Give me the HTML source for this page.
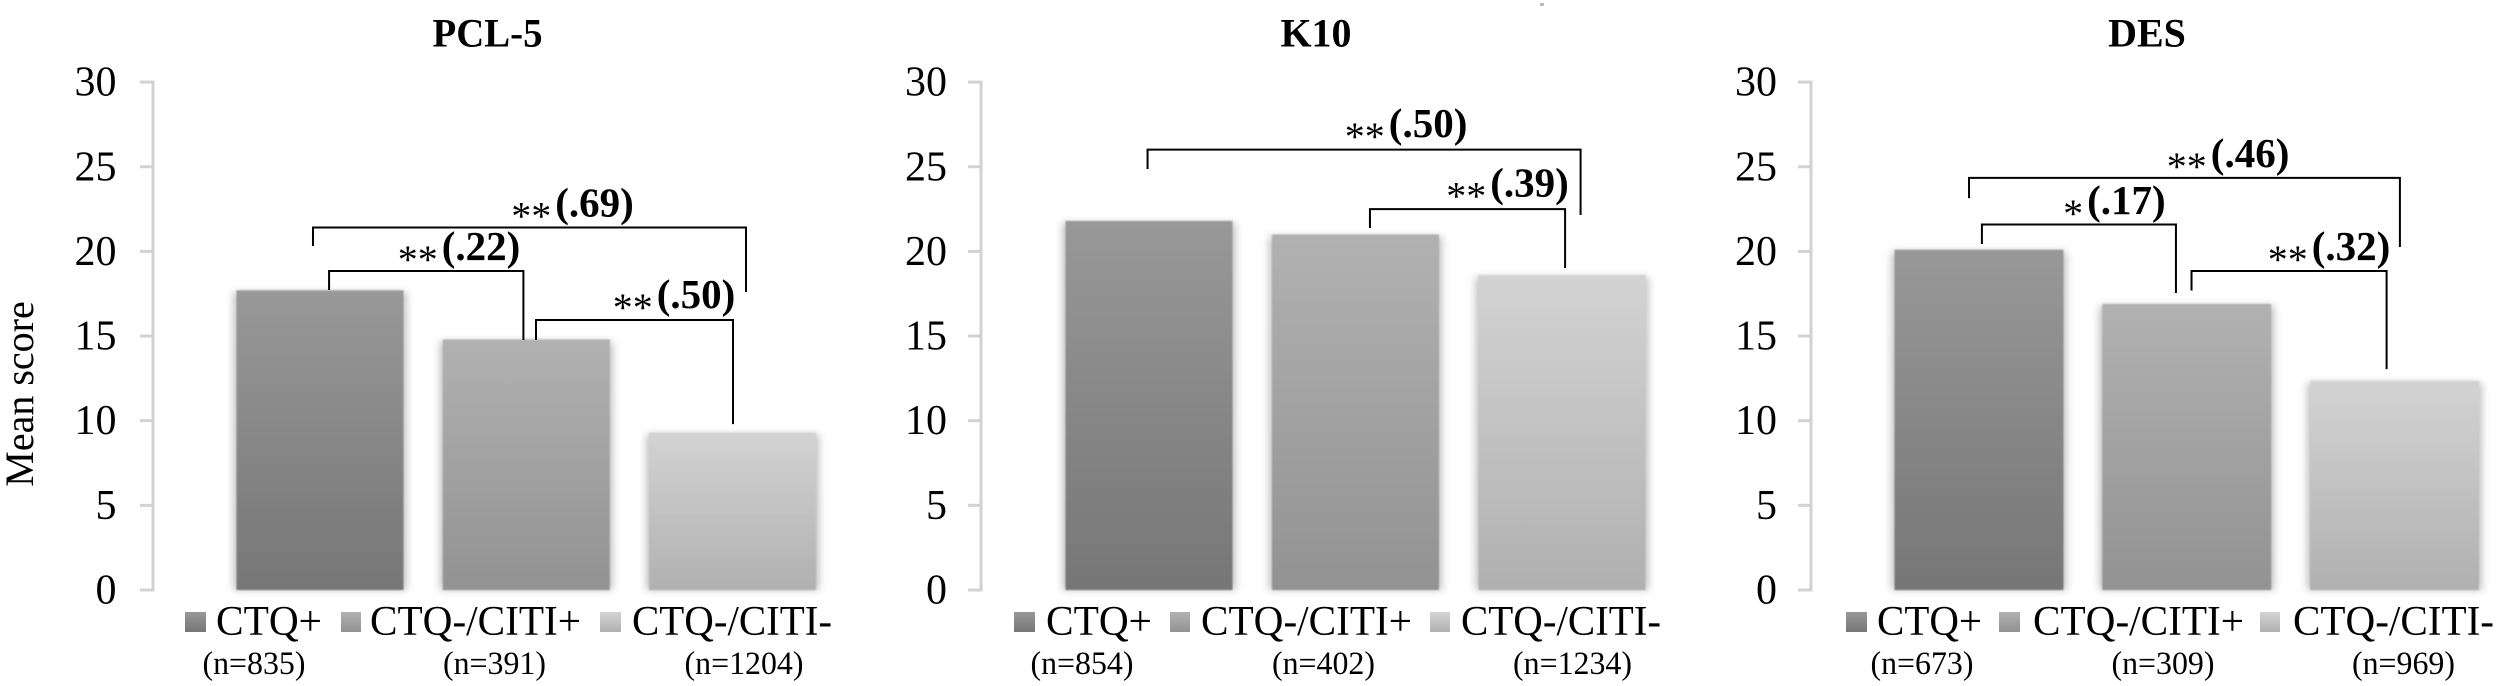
<!DOCTYPE html>
<html lang="en">
<head>
<meta charset="utf-8">
<title>Mean scores by group: PCL-5, K10, DES</title>
<style>
html,body{margin:0;padding:0;background:#fff;}
body{width:2500px;height:686px;overflow:hidden;}
svg{display:block;font-family:"Liberation Serif",serif;fill:#000;}
.title{font-size:40px;font-weight:bold;text-anchor:middle;}
.tick{font-size:42px;text-anchor:end;}
.leg{font-size:42px;}
.n{font-size:33px;text-anchor:middle;}
.ax{font-size:40px;}
.sig{font-size:41px;font-weight:bold;text-anchor:middle;}
.star{font-size:40px;font-weight:normal;}
</style>
</head>
<body>
<svg id="chart" xmlns="http://www.w3.org/2000/svg" width="2500" height="686" viewBox="0 0 2500 686">
  <defs>
    <linearGradient id="g0" x1="0" y1="0" x2="0" y2="1"><stop offset="0" stop-color="#989898"/><stop offset="1" stop-color="#767676"/></linearGradient>
    <linearGradient id="g1" x1="0" y1="0" x2="0" y2="1"><stop offset="0" stop-color="#b1b1b1"/><stop offset="1" stop-color="#929292"/></linearGradient>
    <linearGradient id="g2" x1="0" y1="0" x2="0" y2="1"><stop offset="0" stop-color="#d3d3d3"/><stop offset="1" stop-color="#b0b0b0"/></linearGradient>
    <filter id="soft" x="-20%" y="-10%" width="140%" height="120%"><feGaussianBlur stdDeviation="4"/></filter>
    <filter id="edge" x="-5%" y="-5%" width="110%" height="110%"><feGaussianBlur stdDeviation="0.7"/></filter>
  </defs>

  <rect x="1540" y="3" width="4" height="3" fill="#bbb"/>

  <text class="ax" transform="translate(33 394) rotate(-90)" text-anchor="middle">Mean score</text>

  <g>
    <text class="title" x="487.5" y="46.5" textLength="110" lengthAdjust="spacingAndGlyphs">PCL-5</text>
    <rect x="185" y="612" width="21" height="20" fill="url(#g0)"/>
    <text class="leg" x="216" y="635" textLength="106" lengthAdjust="spacingAndGlyphs">CTQ+</text>
    <rect x="341" y="612" width="20" height="20" fill="url(#g1)"/>
    <text class="leg" x="370" y="635" textLength="211" lengthAdjust="spacingAndGlyphs">CTQ-/CITI+</text>
    <rect x="600" y="612" width="21" height="20" fill="url(#g2)"/>
    <text class="leg" x="632" y="635" textLength="200" lengthAdjust="spacingAndGlyphs">CTQ-/CITI-</text>
    <text class="n" x="254" y="674" textLength="103" lengthAdjust="spacingAndGlyphs">(n=835)</text>
    <text class="n" x="494.5" y="674" textLength="103" lengthAdjust="spacingAndGlyphs">(n=391)</text>
    <text class="n" x="744" y="674" textLength="119" lengthAdjust="spacingAndGlyphs">(n=1204)</text>
  </g>

  <g>
    <text class="title" x="1316" y="46.5">K10</text>
    <rect x="1014" y="612" width="21" height="20" fill="url(#g0)"/>
    <text class="leg" x="1046" y="635" textLength="106" lengthAdjust="spacingAndGlyphs">CTQ+</text>
    <rect x="1170" y="612" width="20" height="20" fill="url(#g1)"/>
    <text class="leg" x="1201" y="635" textLength="211" lengthAdjust="spacingAndGlyphs">CTQ-/CITI+</text>
    <rect x="1430" y="612" width="20" height="20" fill="url(#g2)"/>
    <text class="leg" x="1461" y="635" textLength="200" lengthAdjust="spacingAndGlyphs">CTQ-/CITI-</text>
    <text class="n" x="1082" y="674" textLength="103" lengthAdjust="spacingAndGlyphs">(n=854)</text>
    <text class="n" x="1323.5" y="674" textLength="103" lengthAdjust="spacingAndGlyphs">(n=402)</text>
    <text class="n" x="1572.5" y="674" textLength="119" lengthAdjust="spacingAndGlyphs">(n=1234)</text>
  </g>

  <g>
    <text class="title" x="2147" y="46.5">DES</text>
    <rect x="1846" y="612" width="21" height="20" fill="url(#g0)"/>
    <text class="leg" x="1877" y="635" textLength="105" lengthAdjust="spacingAndGlyphs">CTQ+</text>
    <rect x="1999" y="612" width="21" height="20" fill="url(#g1)"/>
    <text class="leg" x="2033" y="635" textLength="211" lengthAdjust="spacingAndGlyphs">CTQ-/CITI+</text>
    <rect x="2260" y="612" width="20" height="20" fill="url(#g2)"/>
    <text class="leg" x="2293" y="635" textLength="201" lengthAdjust="spacingAndGlyphs">CTQ-/CITI-</text>
    <text class="n" x="1922" y="674" textLength="103" lengthAdjust="spacingAndGlyphs">(n=673)</text>
    <text class="n" x="2163" y="674" textLength="103" lengthAdjust="spacingAndGlyphs">(n=309)</text>
    <text class="n" x="2403.5" y="674" textLength="103" lengthAdjust="spacingAndGlyphs">(n=969)</text>
  </g>
</svg>
<script>
const categories = ["ctq-pos", "citi-pos", "citi-neg"];
const yTickValues = [0, 5, 10, 15, 20, 25, 30];

const pcl5Values = [17.7, 14.8, 9.3];
const k10Values = [21.8, 21.0, 18.6];
const desValues = [20.1, 16.9, 12.35];

// Significance brackets, in chart units: from/to/at are category positions,
// level/leftEnd/rightEnd/labelBase are values on the mean-score axis.
const pcl5Brackets = [
  {from: -0.034, to: 2.065, level: 21.41, leftEnd: 20.32, rightEnd: 17.6, stars: "**", effect: "(.69)", at: 1.224, labelBase: 22.05},
  {from: 0.044, to: 0.986, level: 18.84, leftEnd: 17.72, rightEnd: 14.77, stars: "**", effect: "(.22)", at: 0.674, labelBase: 19.5},
  {from: 1.047, to: 2.002, level: 15.95, leftEnd: 14.77, rightEnd: 9.8, stars: "**", effect: "(.50)", at: 1.716, labelBase: 16.65}
];
const k10Brackets = [
  {from: -0.007, to: 2.09, level: 26.01, leftEnd: 24.87, rightEnd: 22.15, stars: "**", effect: "(.50)", at: 1.245, labelBase: 26.75},
  {from: 1.07, to: 2.015, level: 22.5, leftEnd: 21.38, rightEnd: 19.02, stars: "**", effect: "(.39)", at: 1.736, labelBase: 23.25}
];
const desBrackets = [
  {from: -0.048, to: 2.026, level: 24.34, leftEnd: 23.15, rightEnd: 20.26, stars: "**", effect: "(.46)", at: 1.199, labelBase: 25.0},
  {from: 0.014, to: 0.948, level: 21.59, leftEnd: 20.44, rightEnd: 17.54, stars: "*", effect: "(.17)", at: 0.652, labelBase: 22.2},
  {from: 1.023, to: 1.962, level: 18.84, leftEnd: 17.69, rightEnd: 13.05, stars: "**", effect: "(.32)", at: 1.685, labelBase: 19.5}
];

const NS = "http://www.w3.org/2000/svg";
const chart = document.getElementById("chart");
const plotBottom = 590;
const pxPerUnit = 16.93;

function yScale(v) {
  return plotBottom - v * pxPerUnit;
}

function make(parent, tag, attrs) {
  const el = document.createElementNS(NS, tag);
  for (const k in attrs) el.setAttribute(k, attrs[k]);
  parent.appendChild(el);
  return el;
}

function drawPanel(name, values, brackets, axisX, firstCenter, step, barWidth, labelGap) {
  const xScale = function (c) { return firstCenter + c * step; };

  const panel = make(chart, "g", {});
  
  

  const axisLine = make(panel, "line", {x1: axisX, x2: axisX, y1: yScale(30) - 1.5, y2: yScale(0) + 1.5, stroke: "#d2d2d2", "stroke-width": 3});
  
  

  yTickValues.forEach(function (t) {
    const mark = make(panel, "line", {x1: axisX - 13, x2: axisX, y1: yScale(t), y2: yScale(t), stroke: "#d2d2d2", "stroke-width": 3});
    
    
    const label = make(panel, "text", {class: "tick", x: axisX - labelGap, y: yScale(t) + 13.5});
    
    
    label.textContent = String(t);
  });

  values.forEach(function (v, i) {
    const left = xScale(i) - barWidth / 2;
    const shadow = make(panel, "rect", {x: left - 3, y: yScale(v) + 2, width: barWidth + 6, height: plotBottom - yScale(v) - 2, fill: "#777", opacity: 0.45, filter: "url(#soft)"});
    
    
    const bar = make(panel, "rect", {x: left, y: yScale(v), width: barWidth, height: plotBottom - yScale(v), fill: "url(#g" + i + ")", filter: "url(#edge)"});
    
    
  });

  brackets.forEach(function (b, i) {
    const x1 = xScale(b.from);
    const x2 = xScale(b.to);
    const top = yScale(b.level);
    const path = make(panel, "path", {
      d: "M" + x1 + " " + yScale(b.leftEnd) + "V" + top + "H" + x2 + "V" + yScale(b.rightEnd),
      fill: "none", stroke: "#000", "stroke-width": 2
    });
    
    

    const label = make(panel, "text", {class: "sig", x: xScale(b.at), y: yScale(b.labelBase)});
    
    
    const stars = make(label, "tspan", {class: "star", dy: 13});
    stars.textContent = b.stars;
    const effect = make(label, "tspan", {dy: -13, dx: 4});
    effect.textContent = b.effect;
  });
}

drawPanel("pcl5", pcl5Values, pcl5Brackets, 153, 320, 206.3, 167, 36.5);
drawPanel("k10", k10Values, k10Brackets, 981, 1149, 206.5, 167, 34);
drawPanel("des", desValues, desBrackets, 1811, 1979, 207.75, 169, 34);
</script>
</body>
</html>
